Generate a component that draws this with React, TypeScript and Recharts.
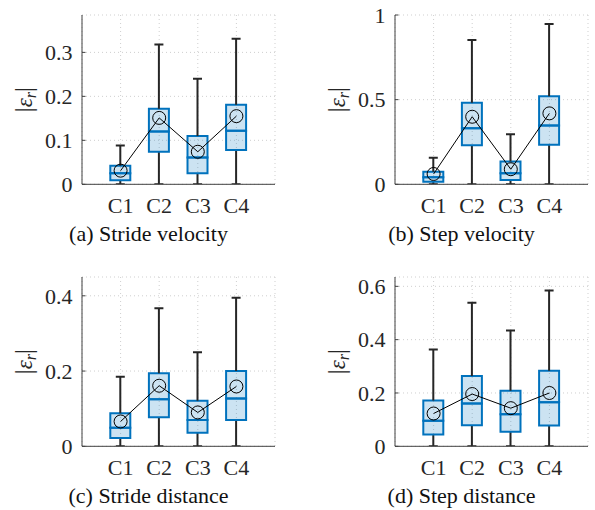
import React from "react";
import { ComposedChart, Bar, Line, XAxis, YAxis, CartesianGrid } from "recharts";

const categories = ["C1", "C2", "C3", "C4"];

// (a) Stride velocity
const strideVelMax = [0.088, 0.318, 0.24, 0.331];
const strideVelQ3 = [0.042, 0.172, 0.11, 0.181];
const strideVelMed = [0.025, 0.12, 0.061, 0.122];
const strideVelQ1 = [0.009, 0.074, 0.025, 0.078];
const strideVelMean = [0.031, 0.151, 0.074, 0.155];

// (b) Step velocity
const stepVelMax = [0.157, 0.852, 0.295, 0.947];
const stepVelQ3 = [0.074, 0.482, 0.134, 0.52];
const stepVelMed = [0.041, 0.331, 0.065, 0.348];
const stepVelQ1 = [0.015, 0.23, 0.025, 0.234];
const stepVelMean = [0.061, 0.399, 0.089, 0.419];

// (c) Stride distance
const strideDistMax = [0.185, 0.367, 0.25, 0.395];
const strideDistQ3 = [0.088, 0.194, 0.121, 0.2];
const strideDistMed = [0.049, 0.125, 0.07, 0.127];
const strideDistQ1 = [0.022, 0.077, 0.036, 0.07];
const strideDistMean = [0.066, 0.161, 0.09, 0.159];

// (d) Step distance
const stepDistMax = [0.363, 0.538, 0.434, 0.584];
const stepDistQ3 = [0.172, 0.264, 0.208, 0.283];
const stepDistMed = [0.096, 0.161, 0.12, 0.165];
const stepDistQ1 = [0.044, 0.079, 0.055, 0.078];
const stepDistMean = [0.123, 0.196, 0.143, 0.2];

const FONT = "'Liberation Serif', 'Times New Roman', serif";
const AXIS = "#404040";
const BLUE = "#0072BD";
const WHISKER = "#262626";
const FS = 22;

interface PanelProps {
  caption: string;
  max: number[];
  q3: number[];
  med: number[];
  q1: number[];
  mean: number[];
  yMax: number;
  yTicks: number[];
  left: number;
  top: number;
}

function buildRows(p: PanelProps) {
  return categories.map((name, i) => ({
    name,
    lowWhisker: p.q1[i],
    lowBox: p.med[i] - p.q1[i],
    highBox: p.q3[i] - p.med[i],
    highWhisker: p.max[i] - p.q3[i],
    mean: p.mean[i],
  }));
}

// lower whisker: from 0 up to Q1, cap at the bottom
const LowWhisker = (props: any) => {
  const { x, y, width, height } = props;
  const cx = x + width / 2;
  return (
    <g>
      <line x1={cx} x2={cx} y1={y} y2={y + height} stroke={WHISKER} strokeWidth={2} />
      <line x1={cx - 4.5} x2={cx + 4.5} y1={y + height} y2={y + height} stroke={WHISKER} strokeWidth={2} />
    </g>
  );
};

// upper whisker: from Q3 up to max, cap at the top
const HighWhisker = (props: any) => {
  const { x, y, width, height } = props;
  const cx = x + width / 2;
  return (
    <g>
      <line x1={cx} x2={cx} y1={y} y2={y + height} stroke={WHISKER} strokeWidth={2} />
      <line x1={cx - 4.5} x2={cx + 4.5} y1={y} y2={y} stroke={WHISKER} strokeWidth={2} />
    </g>
  );
};

const YTick = (props: any) => {
  const { x, y, payload } = props;
  return (
    <g>
      <line x1={x + 9.5} x2={x + 13} y1={y} y2={y} stroke={AXIS} />
      <text x={x} y={y} dy="0.35em" textAnchor="end" fontSize={FS} fill="#262626" fontFamily={FONT}>
        {payload.value}
      </text>
    </g>
  );
};

const YLabel = (props: any) => {
  const vb = props.viewBox || { x: 0, y: 15, width: 82, height: 169 };
  const cx = vb.x + 32;
  const cy = vb.y + vb.height / 2;
  return (
    <text
      transform={`translate(${cx},${cy}) rotate(-90)`}
      textAnchor="middle"
      fontSize={25}
      fill="#262626"
      fontFamily={FONT}
    >
      <tspan>|</tspan>
      <tspan fontStyle="italic" fontSize={23}>ε</tspan>
      <tspan fontStyle="italic" fontSize={16} dy={4}>r</tspan>
      <tspan dy={-4}>|</tspan>
    </text>
  );
};

function Panel(p: PanelProps) {
  const rows = buildRows(p);
  return (
    <div style={{ position: "absolute", left: p.left, top: p.top, width: 282, height: 270 }}>
      <ComposedChart
        width={282}
        height={225}
        data={rows}
        margin={{ top: 15, right: 7, left: 0, bottom: 0 }}
        style={{ fontFamily: FONT }}
      >
        <CartesianGrid stroke="#cfcfcf" strokeDasharray="1 3" />
        <XAxis
          dataKey="name"
          height={40.7}
          padding={{ left: 19.3, right: 19.3 }}
          tickSize={0}
          tickMargin={13.4}
          tickLine={false}
          axisLine={{ stroke: AXIS }}
          tick={{ fontSize: FS, fill: "#262626", fontFamily: FONT }}
        />
        <YAxis
          width={82}
          domain={[0, p.yMax]}
          ticks={p.yTicks}
          allowDataOverflow
          tickSize={0}
          tickMargin={9.5}
          tickLine={false}
          axisLine={{ stroke: AXIS }}
          tick={<YTick />}
          label={(lp: any) => <YLabel {...lp} />}
        />
        <Bar dataKey="lowWhisker" stackId="box" barSize={20} shape={<LowWhisker />} isAnimationActive={false} />
        <Bar
          dataKey="lowBox"
          stackId="box"
          barSize={20}
          fill="rgba(0,114,189,0.2)"
          stroke={BLUE}
          strokeWidth={2}
          isAnimationActive={false}
        />
        <Bar
          dataKey="highBox"
          stackId="box"
          barSize={20}
          fill="rgba(0,114,189,0.2)"
          stroke={BLUE}
          strokeWidth={2}
          isAnimationActive={false}
        />
        <Bar dataKey="highWhisker" stackId="box" barSize={20} shape={<HighWhisker />} isAnimationActive={false} />
        <Line
          dataKey="mean"
          stroke="#000"
          strokeWidth={1}
          dot={{ r: 6.5, stroke: "#000", strokeWidth: 1, fill: "none" }}
          activeDot={false}
          isAnimationActive={false}
        />
      </ComposedChart>
      <div
        style={{
          position: "absolute",
          left: 148.5 - 150,
          top: 223.9,
          width: 300,
          textAlign: "center",
          fontFamily: FONT,
          fontSize: FS,
          lineHeight: "20px",
          color: "#111",
          whiteSpace: "nowrap",
        }}
      >
        {p.caption}
      </div>
    </div>
  );
}

export default function App() {
  return (
    <div style={{ position: "absolute", left: 0, top: 0, width: 595, height: 510, background: "#fff", overflow: "hidden" }}>
      <Panel
        caption="(a) Stride velocity"
        max={strideVelMax}
        q3={strideVelQ3}
        med={strideVelMed}
        q1={strideVelQ1}
        mean={strideVelMean}
        yMax={0.385}
        yTicks={[0, 0.1, 0.2, 0.3]}
        left={0}
        top={0}
      />
      <Panel
        caption="(b) Step velocity"
        max={stepVelMax}
        q3={stepVelQ3}
        med={stepVelMed}
        q1={stepVelQ1}
        mean={stepVelMean}
        yMax={1}
        yTicks={[0, 0.5, 1]}
        left={313}
        top={0}
      />
      <Panel
        caption="(c) Stride distance"
        max={strideDistMax}
        q3={strideDistQ3}
        med={strideDistMed}
        q1={strideDistQ1}
        mean={strideDistMean}
        yMax={0.45}
        yTicks={[0, 0.2, 0.4]}
        left={0}
        top={262}
      />
      <Panel
        caption="(d) Step distance"
        max={stepDistMax}
        q3={stepDistQ3}
        med={stepDistMed}
        q1={stepDistQ1}
        mean={stepDistMean}
        yMax={0.635}
        yTicks={[0, 0.2, 0.4, 0.6]}
        left={313}
        top={262}
      />
    </div>
  );
}
